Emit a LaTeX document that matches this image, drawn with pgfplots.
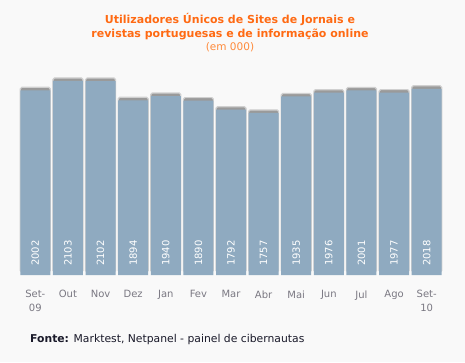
\documentclass[border=0pt]{standalone}
\usepackage{pgfplots}
\pgfplotsset{compat=1.18}
\usepackage{pgfplotstable}
\usepackage{fontspec}
\setmainfont{DejaVu Sans}
\definecolor{bg}{HTML}{F9F9F9}
\definecolor{barc}{HTML}{8FAAC0}
\definecolor{shade}{HTML}{9A9A9A}
\definecolor{halo}{HTML}{D0D0D0}
\definecolor{ttl}{HTML}{FF6A13}
\definecolor{ttl2}{HTML}{FF8A3A}
\definecolor{tick}{HTML}{7A7882}
\definecolor{foot}{HTML}{1A1A2A}
\pgfplotstableread{
x v
0 2002
1 2103
2 2102
3 1894
4 1940
5 1890
6 1792
7 1757
8 1935
9 1976
10 2001
11 1977
12 2018
}\data
\begin{document}
\begin{tikzpicture}[x=1pt,y=1pt]
\path[use as bounding box, fill=bg] (0,0) rectangle (465,362);
\begin{axis}[at={(19pt,87pt)}, anchor=south west, scale only axis,
  width=424pt, height=200pt, xmin=-0.5, xmax=12.5, ymin=0, ymax=2168,
  clip=false, axis line style={draw=none}, major tick length=0pt,
  ytick=\empty, xtick={0,...,12},
  xticklabels={{Set-\\09},Out,Nov,Dez,Jan,Fev,Mar,Abr,Mai,Jun,Jul,Ago,{Set-\\10}},
  xticklabel style={align=center, font=\fontsize{10}{13.5}\selectfont, text=tick, yshift=-12pt},
  ybar, bar width=30pt]
\addplot[fill=shade, draw=halo, line width=1.2pt, yshift=3pt, bar shift=0pt, rounded corners=1.5pt] table[x=x,y=v]{\data};
\addplot[fill=barc, draw=none, bar shift=0pt] table[x=x,y=v]{\data};
\addplot[draw=none, fill=none, bar shift=0pt, point meta=explicit symbolic, nodes near coords={\pgfplotspointmeta},
  every node near coord/.append style={rotate=90, anchor=west, inner xsep=9pt, text=white, font=\fontsize{10}{12}\selectfont}]
  table[x=x, y expr=0, meta=v]{\data};
\end{axis}
\node[text=ttl, font=\bfseries\fontsize{11}{13}\selectfont] at (230,342) {Utilizadores Únicos de Sites de Jornais e};
\node[text=ttl, font=\bfseries\fontsize{11}{13}\selectfont] at (230,328) {revistas portuguesas e de informação online};
\node[text=ttl2, font=\fontsize{10.5}{13}\selectfont] at (230,315) {(em 000)};
\node[anchor=west, text=foot, font=\fontsize{10.8}{13}\selectfont, inner sep=0pt] at (30,22) {\textbf{Fonte:} Marktest, Netpanel - painel de cibernautas};
\end{tikzpicture}
\end{document}
